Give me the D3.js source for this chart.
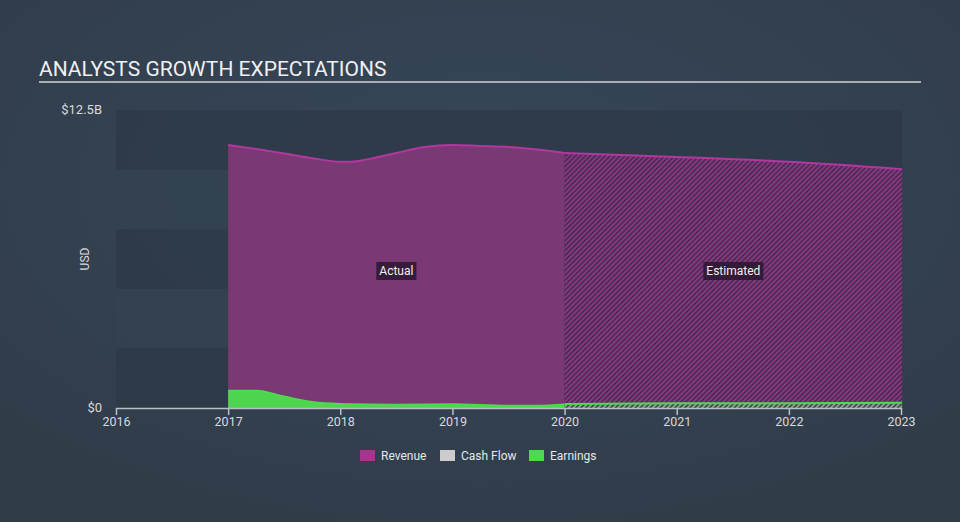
<!DOCTYPE html>
<html><head><meta charset="utf-8">
<script src="https://cdn.jsdelivr.net/npm/d3@7"></script>
<style>
body{margin:0;background:#333f4e;}
svg{display:block;font-family:Roboto,"Open Sans",sans-serif;}
</style></head><body>
<svg id="c" width="960" height="522"></svg>
<script>
const years = [2016, 2017, 2018, 2019, 2020, 2021, 2022, 2023];
const yTicks = [0, 12.5];
const revActualX = [2017, 2017.25, 2017.5, 2017.75, 2018, 2018.1, 2018.25, 2018.5, 2018.75, 2019, 2019.25, 2019.5, 2019.75, 2020];
const revActualY = [11.03, 10.86, 10.68, 10.48, 10.33, 10.33, 10.44, 10.7, 10.95, 11.03, 10.99, 10.95, 10.84, 10.7];
const revEstX = [2020, 2021, 2022, 2023.01];
const revEstY = [10.7, 10.53, 10.33, 10.02];
const earnActualX = [2017, 2017.25, 2017.5, 2017.75, 2018, 2018.5, 2019, 2019.5, 2019.75, 2020];
const earnActualY = [0.72, 0.72, 0.48, 0.25, 0.17, 0.14, 0.16, 0.09, 0.09, 0.15];
const earnEstX = [2020, 2021, 2022, 2023.01];
const earnEstY = [0.17, 0.2, 0.2, 0.22];
const legendItems = [["Revenue", "#a8348f"], ["Cash Flow", "#cccccc"], ["Earnings", "#4cdb4e"]];

const svg = d3.select("#c");
const W = 960, H = 522;
const defs = svg.append("defs");
const bg = defs.append("radialGradient").attr("id","bg").attr("cx","50%").attr("cy","35%").attr("r","70%");
bg.append("stop").attr("offset","0%").attr("stop-color","#36475a");
bg.append("stop").attr("offset","100%").attr("stop-color","#313c49");
svg.append("rect").attr("width",W).attr("height",H).attr("fill","url(#bg)");

const pr = defs.append("pattern").attr("id","hatchR").attr("patternUnits","userSpaceOnUse")
  .attr("width",3.5).attr("height",3.5).attr("patternTransform","rotate(45)");
pr.append("rect").attr("width",3.5).attr("height",3.5).attr("fill","#4a2c52");
pr.append("rect").attr("width",1.8).attr("height",3.5).attr("fill","#8a3783");
const pg = defs.append("pattern").attr("id","hatchG").attr("patternUnits","userSpaceOnUse")
  .attr("width",3.5).attr("height",3.5).attr("patternTransform","rotate(45)");
pg.append("rect").attr("width",3.5).attr("height",3.5).attr("fill","#3a4a50");
pg.append("rect").attr("width",1.8).attr("height",3.5).attr("fill","#8fa08f");

const x = d3.scaleLinear().domain([2016, 2023]).range([116, 901]);
const y = d3.scaleLinear().domain([0, 12.5]).range([408, 110]);

// title
svg.append("text").attr("x",39).attr("y",76).attr("fill","#eef0f2").attr("font-size",21)
  .text("ANALYSTS GROWTH EXPECTATIONS");
svg.append("line").attr("x1",39).attr("x2",921).attr("y1",82).attr("y2",82)
  .attr("stroke","#a9aeb5").attr("stroke-width",2);

// bands
const bandVals = d3.range(0, 5).map(i => i * 2.5);
svg.append("g").selectAll("rect").data(bandVals).join("rect")
  .attr("x", x(2016)).attr("width", x(2023.01) - x(2016))
  .attr("y", d => y(d + 2.5)).attr("height", d => y(d) - y(d + 2.5))
  .attr("fill", (d, i) => i % 2 === 0 ? "#2e3a48" : "#344250").attr("opacity", 0.85);

const curve = d3.curveMonotoneX;
const mk = (xs, ys) => xs.map((v, i) => [v, ys[i]]);
const area = d3.area().x(d => x(d[0])).y0(y(0)).y1(d => y(d[1])).curve(curve);
const line = d3.line().x(d => x(d[0])).y(d => y(d[1])).curve(curve);

const ra = mk(revActualX, revActualY), re = mk(revEstX, revEstY);
const ea = mk(earnActualX, earnActualY), ee = mk(earnEstX, earnEstY);

svg.append("path").attr("d", area(ra)).attr("fill", "#7a3874");
svg.append("path").attr("d", area(re)).attr("fill", "url(#hatchR)");
svg.append("path").attr("d", line(ra)).attr("fill","none").attr("stroke","#b0399f").attr("stroke-width",2);
svg.append("path").attr("d", line(re)).attr("fill","none").attr("stroke","#b0399f").attr("stroke-width",2);

svg.append("path").attr("d", area(ea)).attr("fill", "#4fd450");
svg.append("path").attr("d", area(ee)).attr("fill", "url(#hatchG)");
svg.append("path").attr("d", line(ea)).attr("fill","none").attr("stroke","#4cdb4e").attr("stroke-width",2);
svg.append("path").attr("d", line(ee)).attr("fill","none").attr("stroke","#4cdb4e").attr("stroke-width",2);

// x axis
const xa = svg.append("g").attr("transform", `translate(0,${y(0)})`)
  .call(d3.axisBottom(x).tickValues(years).tickFormat(d3.format("d")).tickSize(7).tickPadding(2));
xa.select(".domain").attr("stroke","#b9c0c8").attr("stroke-width",1.5).attr("d", `M${x(2016)},0.5H${x(2023)+1}`);
xa.selectAll(".tick line").attr("stroke","#b9c0c8").attr("stroke-width",1.5).attr("y1",0);
xa.selectAll(".tick text").attr("fill","#d6dade").attr("font-size",12.5).attr("font-family","Roboto");

// y labels
svg.append("g").selectAll("text").data(yTicks).join("text")
  .attr("x", 102).attr("y", d => y(d)).attr("dy", "0.3em")
  .attr("text-anchor","end").attr("fill","#d6dade").attr("font-size",13)
  .text(d => d === 0 ? "$0" : "$" + d + "B");
svg.append("text").attr("transform","translate(89,259) rotate(-90)").attr("text-anchor","middle")
  .attr("fill","#d6dade").attr("font-size",12).text("USD");

// labels
function tag(cx, cy, txt) {
  const g = svg.append("g");
  const t = g.append("text").attr("x", cx).attr("y", cy).attr("dy","0.35em").attr("text-anchor","middle")
    .attr("fill","#f0f0f0").attr("font-size",12).text(txt);
  const b = t.node().getBBox();
  g.insert("rect","text").attr("x", b.x - 3).attr("y", cy - 9).attr("width", b.width + 6).attr("height", 18)
    .attr("fill","#2a1830").attr("opacity",0.85);
}
tag((x(2017) + x(2020)) / 2, 271, "Actual");
tag((x(2020) + x(2023.01)) / 2, 271, "Estimated");

// legend
const lx = [360, 440, 529];
const lg = svg.append("g").selectAll("g").data(legendItems).join("g")
  .attr("transform", (d, i) => `translate(${lx[i]},450)`);
lg.append("rect").attr("width",15).attr("height",11).attr("fill", d => d[1]);
lg.append("text").attr("x",21).attr("y",6).attr("dy","0.35em").attr("fill","#e4e6e8").attr("font-size",12)
  .text(d => d[0]);
</script>
</body></html>
